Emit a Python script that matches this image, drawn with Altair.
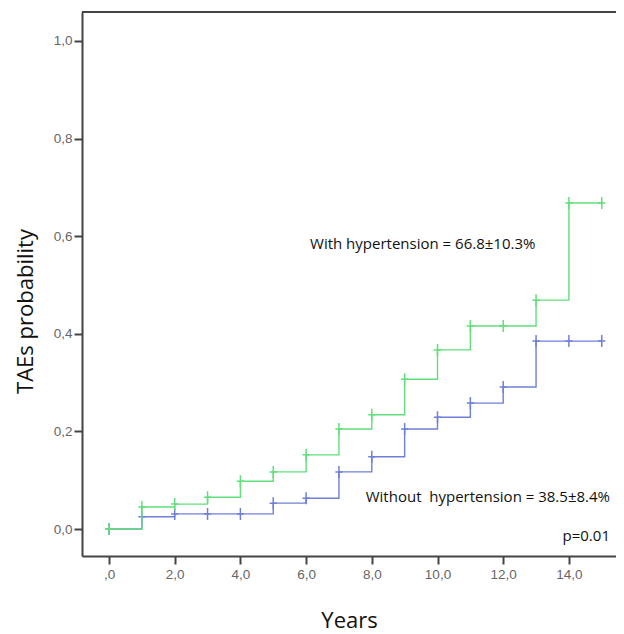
import altair as alt
import pandas as pd

# ---- data ----
years = list(range(16))
with_htn = [0.0, 0.045, 0.051, 0.065, 0.098, 0.117, 0.152, 0.205, 0.234,
            0.307, 0.367, 0.416, 0.416, 0.469, 0.668, 0.668]
without_htn = [0.0, 0.025, 0.031, 0.031, 0.031, 0.053, 0.063, 0.117, 0.148,
               0.205, 0.229, 0.258, 0.291, 0.385, 0.385, 0.385]
series_names = ["Without hypertension", "With hypertension"]
series_colors = ["#6f80d8", "#62df7a"]

x_ticks = [0, 2, 4, 6, 8, 10, 12, 14]
y_ticks = [0.0, 0.2, 0.4, 0.6, 0.8, 1.0]

note_texts = ["With hypertension = 66.8±10.3%",
              "Without \u00a0hypertension = 38.5±8.4%",
              "p=0.01"]
note_x = [6.12, 15.25, 15.25]
note_y = [0.584, 0.066, -0.014]
note_align = ["left", "right", "right"]

# ---- layout ----
W, H = 534, 544
X_DOMAIN = [-0.822, -0.822 + W / 32.85]
Y_DOMAIN = [-0.0553, 1.0594]
FRAME = "#444444"

x_scale = alt.Scale(domain=X_DOMAIN, nice=False, zero=False)
y_scale = alt.Scale(domain=Y_DOMAIN, nice=False, zero=False)

x_axis = alt.Axis(
    values=x_ticks, grid=False, domainColor=FRAME, domainWidth=2,
    tickColor=FRAME, tickWidth=2, tickSize=8, labelPadding=3,
    labelFont="Liberation Sans", labelFontSize=13.5, labelColor="#666666",
    labelExpr="datum.value == 0 ? ',0' : replace(format(datum.value, '.1f'), '.', ',')",
    title="Years", titleFont="Open Sans", titleFontSize=22, titleFontWeight="normal",
    titleColor="#111111", titleX=267, titleY=64, titleBaseline="middle",
    titleAnchor="start", titleAlign="center",
)
y_axis = alt.Axis(
    values=y_ticks, grid=False, domainColor=FRAME, domainWidth=2,
    tickColor=FRAME, tickWidth=2, tickSize=8, labelPadding=2,
    labelFont="Liberation Sans", labelFontSize=13.5, labelColor="#666666",
    labelExpr="replace(format(datum.value, '.1f'), '.', ',')",
    title="TAEs probability", titleFont="Open Sans", titleFontSize=22,
    titleFontWeight="normal", titleColor="#111111",
    titleX=-57, titleY=299, titleBaseline="middle", titleAngle=-90,
    titleAlign="center", titleAnchor="start",
)

xe = alt.X("t:Q", scale=x_scale, axis=x_axis)
ye = alt.Y("p:Q", scale=y_scale, axis=y_axis)

layers = []

for name, vals, col in zip(series_names, [without_htn, with_htn], series_colors):
    df = pd.DataFrame({"t": years, "p": vals, "g": name})
    line = alt.Chart(df).mark_line(
        interpolate="step-after", color=col, strokeWidth=1.4
    ).encode(x=xe, y=ye)
    marks = alt.Chart(df).mark_point(
        shape="M-0.6,0H0.6M0,-1V1", filled=False, size=144,
        color=col, strokeWidth=1.5, opacity=1,
    ).encode(x=xe, y=ye)
    layers += [line, marks]

notes_df = pd.DataFrame({"txt": note_texts, "t": note_x, "p": note_y,
                         "al": note_align})
for al in ["left", "right"]:
    layers.append(
        alt.Chart(notes_df).transform_filter(alt.datum.al == al).mark_text(
            align=al, baseline="middle", font="Open Sans", fontSize=15,
            color="#111111",
        ).encode(x=xe, y=ye, text="txt:N")
    )

# top frame line
frame_df = pd.DataFrame({"k": [0]})
layers.append(
    alt.Chart(frame_df).mark_rule(color=FRAME, strokeWidth=2).encode(
        x=alt.value(0), x2=alt.value(W), y=alt.value(0)
    )
)

chart = alt.layer(*layers).properties(
    width=W, height=H,
    autosize=alt.AutoSizeParams(type="none"),
    padding={"left": 74, "top": 4, "right": 0, "bottom": 78},
    background="white",
).configure_view(stroke=None)

chart.save("out.html", embed_options={"renderer": "svg", "actions": False})
